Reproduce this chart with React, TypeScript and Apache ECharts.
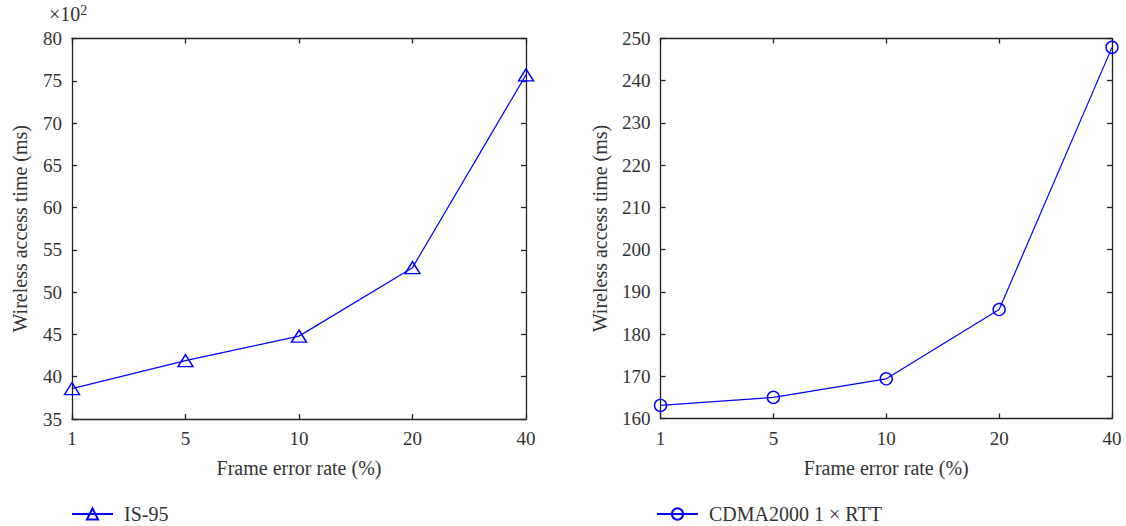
import React, { useEffect, useRef } from "react";
import * as echarts from "echarts";

const categories = ["1", "5", "10", "20", "40"];
const is95Values = [38.6, 41.9, 44.8, 52.9, 75.7];
const cdmaValues = [163.1, 165.0, 169.4, 185.8, 247.9];
const leftYMin = 35, leftYMax = 80, leftYStep = 5;
const rightYMin = 160, rightYMax = 250, rightYStep = 10;
const xName = "Frame error rate (%)";
const yName = "Wireless access time (ms)";
const series1Name = "IS-95";
const series2Name = "CDMA2000 1 \u00d7 RTT";

const FONT = "Liberation Serif";
const AX = "#222";
const TXT = "#333";
const BLUE = "#0000ff";

function xAxes(gridIndex: number) {
  return [
    {
      type: "category", gridIndex, data: categories, boundaryGap: false, position: "bottom",
      axisLine: { lineStyle: { color: AX, width: 1.3 } },
      axisTick: { inside: true, length: 5, lineStyle: { color: AX, width: 1.3 } },
      axisLabel: { color: TXT, fontFamily: FONT, fontSize: 19, margin: 10 },
      name: xName, nameLocation: "middle", nameGap: 39,
      nameTextStyle: { color: TXT, fontFamily: FONT, fontSize: 20 },
      splitLine: { show: false },
    },
    {
      type: "category", gridIndex, data: categories, boundaryGap: false, position: "top",
      axisLine: { lineStyle: { color: AX, width: 1.3 } },
      axisTick: { inside: true, length: 5, lineStyle: { color: AX, width: 1.3 } },
      axisLabel: { show: false },
      splitLine: { show: false },
    },
  ];
}

function yAxes(gridIndex: number, min: number, max: number, interval: number, gap: number) {
  return [
    {
      type: "value", gridIndex, min, max, interval, position: "left",
      axisLine: { show: true, lineStyle: { color: AX, width: 1.3 } },
      axisTick: { show: true, inside: true, length: 5, lineStyle: { color: AX, width: 1.3 } },
      axisLabel: { color: TXT, fontFamily: FONT, fontSize: 19, margin: 10 },
      name: yName, nameLocation: "middle", nameGap: gap, nameRotate: 90,
      nameTextStyle: { color: TXT, fontFamily: FONT, fontSize: 20 },
      splitLine: { show: false },
    },
    {
      type: "value", gridIndex, min, max, interval, position: "right",
      axisLine: { show: true, lineStyle: { color: AX, width: 1.3 } },
      axisTick: { show: true, inside: true, length: 5, lineStyle: { color: AX, width: 1.3 } },
      axisLabel: { show: false },
      splitLine: { show: false },
    },
  ];
}

export default function App() {
  const ref = useRef<HTMLDivElement>(null);
  useEffect(() => {
    if (!ref.current) return;
    const chart = echarts.init(ref.current, null, { renderer: "svg" });
    const legendBase = {
      orient: "horizontal", itemWidth: 41, itemHeight: 14, top: 504, padding: 0,
      textStyle: { color: TXT, fontFamily: FONT, fontSize: 20, lineHeight: 18, padding: [0, 0, 0, 6] },
    };
    chart.setOption({
      animation: false,
      backgroundColor: "#fff",
      grid: [
        { left: 72, top: 38.5, width: 454, height: 380.5 },
        { left: 660.5, top: 38.5, width: 451.5, height: 380 },
      ],
      xAxis: [...xAxes(0), ...xAxes(1)],
      yAxis: [
        ...yAxes(0, leftYMin, leftYMax, leftYStep, 42),
        ...yAxes(1, rightYMin, rightYMax, rightYStep, 51),
      ],
      legend: [
        { ...legendBase, left: 71, data: [series1Name] },
        { ...legendBase, left: 656, data: [series2Name] },
      ],
      graphic: [
        {
          type: "text", left: 49, top: 3,
          style: {
            text: "\u00d710{sup|2}",
            fill: TXT, font: `20px "${FONT}"`,
            rich: { sup: { fontSize: 14, fontFamily: FONT, fill: TXT, verticalAlign: "top", padding: [0, 0, 8, 0] } },
          },
        },
      ],
      series: [
        {
          name: series1Name, type: "line", xAxisIndex: 0, yAxisIndex: 0, data: is95Values,
          symbol: "triangle", symbolSize: [15, 12],
          lineStyle: { color: BLUE, width: 1.2 },
          itemStyle: { color: "rgba(255,255,255,0)", borderColor: BLUE, borderWidth: 1.4 },
        },
        {
          name: series2Name, type: "line", xAxisIndex: 2, yAxisIndex: 2, data: cdmaValues,
          symbol: "circle", symbolSize: 12,
          lineStyle: { color: BLUE, width: 1.2 },
          itemStyle: { color: "rgba(255,255,255,0)", borderColor: BLUE, borderWidth: 1.4 },
        },
      ],
    });
    return () => chart.dispose();
  }, []);
  return (
    <div
      ref={ref}
      style={{ position: "fixed", left: 0, top: 0, width: 1126, height: 526, background: "#fff" }}
    />
  );
}
